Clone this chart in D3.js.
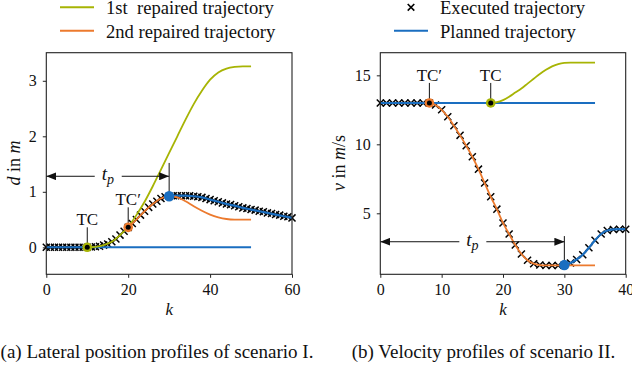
<!DOCTYPE html>
<html>
<head>
<meta charset="utf-8">
<script src="https://cdn.jsdelivr.net/npm/d3@7"></script>
<style>
  body { margin: 0; background: #fff; }
  text { font-family: "Liberation Serif", "DejaVu Serif", serif; fill: #111; }
</style>
</head>
<body>
<div id="main"></div>
<script>
var WIDTH = 632
var HEIGHT = 368

// ---- panel (a): lateral position d over k
var kExecA = d3.range(0, 61)
var execA = [0, 0, 0, 0, 0, 0, 0, 0, 0, 0, 0,
    0.005, 0.01, 0.02, 0.04, 0.06, 0.1, 0.15, 0.22, 0.29, 0.36,
    0.43, 0.5, 0.58, 0.65, 0.72, 0.78, 0.83, 0.88, 0.91, 0.92,
    0.93, 0.93, 0.93, 0.93, 0.93, 0.92, 0.91, 0.9, 0.88, 0.86,
    0.84, 0.82, 0.8, 0.78, 0.77, 0.75, 0.73, 0.71, 0.7, 0.68,
    0.67, 0.65, 0.64, 0.62, 0.61, 0.59, 0.58, 0.56, 0.55, 0.53]
var kPlanA = [0, 50]
var planA = [0, 0]
var kReplanA = [30, 32, 34, 36, 38, 40, 42, 44, 46, 48, 50, 52, 54, 56, 58, 60]
var replanA = [0.92, 0.93, 0.93, 0.92, 0.9, 0.86, 0.82, 0.78, 0.75, 0.71, 0.68, 0.65, 0.62, 0.59, 0.56, 0.53]
var kRep1A = [10, 12, 14, 16, 18, 20, 22, 24, 26, 28, 30, 32, 34, 36, 38, 40, 42, 44, 46, 48, 50]
var rep1A = [0, 0.01, 0.04, 0.1, 0.22, 0.37, 0.58, 0.82, 1.1, 1.4, 1.7, 2.0, 2.3, 2.58, 2.82, 3.02, 3.15, 3.22, 3.25, 3.26, 3.26]
var kRep2A = [20, 22, 24, 26, 28, 30, 32, 34, 36, 38, 40, 42, 44, 46, 48, 50]
var rep2A = [0.36, 0.5, 0.65, 0.78, 0.88, 0.92, 0.9, 0.83, 0.74, 0.66, 0.59, 0.54, 0.51, 0.5, 0.5, 0.5]
var xTicksA = [0, 20, 40, 60]
var yTicksA = [0, 1, 2, 3]

// ---- panel (b): velocity v over k
var kExecB = d3.range(0, 41)
var execB = [13, 13, 13, 13, 13, 13, 13, 13, 13,
    12.85, 12.5, 12.0, 11.35, 10.65, 9.9, 9.1, 8.2, 7.2, 6.2,
    5.3, 4.3, 3.5, 2.7, 2.05, 1.6, 1.35, 1.25, 1.22, 1.22, 1.22,
    1.25, 1.4, 1.65, 2.0, 2.5, 3.05, 3.5, 3.75, 3.83, 3.85, 3.85]
var kPlanB = [0, 35]
var planB = [13, 13]
var kReplanB = [30, 31, 32, 33, 34, 35, 36, 37, 38, 39, 40]
var replanB = [1.25, 1.4, 1.65, 2.0, 2.5, 3.05, 3.5, 3.75, 3.83, 3.85, 3.85]
var kRep1B = d3.range(18, 36)
var rep1B = [13, 13.05, 13.2, 13.45, 13.75, 14.05, 14.4, 14.75, 15.1, 15.4, 15.65, 15.82, 15.9, 15.92, 15.92, 15.92, 15.92, 15.92]
var kRep2B = d3.range(8, 36)
var rep2B = [13, 12.85, 12.5, 12.0, 11.35, 10.65, 9.9, 9.1, 8.2, 7.2, 6.2, 5.3, 4.3, 3.5, 2.7, 2.05, 1.6, 1.35, 1.25,
    1.22, 1.22, 1.22, 1.22, 1.22, 1.22, 1.22, 1.22, 1.22]
var xTicksB = [0, 10, 20, 30, 40]
var yTicksB = [5, 10, 15]

var BLUE = '#1a6ec0'
var ORANGE = '#ec7a2e'
var OLIVE = '#a7b404'
var SERIF = '"Liberation Serif", "DejaVu Serif", serif'

const svg = d3.select('#main').append('svg')
    .attr('width', WIDTH)
    .attr('height', HEIGHT)

var defs = svg.append('defs')
defs.append('marker')
    .attr('id', 'head')
    .attr('viewBox', '0 0 10 8')
    .attr('refX', 10).attr('refY', 4)
    .attr('markerWidth', 10).attr('markerHeight', 8)
    .attr('markerUnits', 'userSpaceOnUse')
    .attr('orient', 'auto-start-reverse')
    .append('path').attr('d', 'M0,0 L10,4 L0,8 Z').attr('fill', '#111')

function zip(ks, vs) { return ks.map((k, i) => [k, vs[i]]) }

function panel(cfg) {
    var x = d3.scaleLinear().domain(cfg.xDomain).range([cfg.left, cfg.right])
    var y = d3.scaleLinear().domain(cfg.yDomain).range([274.3, 52.7])
    var g = svg.append('g')
    var line = d3.line().x(d => x(d[0])).y(d => y(d[1])).curve(d3.curveMonotoneX)

    // axes
    var ax = g.append('g').attr('transform', 'translate(0,274.3)')
        .call(d3.axisBottom(x).tickValues(cfg.xTicks).tickFormat(d3.format('d')).tickSize(3.5).tickPadding(6))
    var ay = g.append('g').attr('transform', 'translate(' + cfg.left + ',0)')
        .call(d3.axisLeft(y).tickValues(cfg.yTicks).tickFormat(d3.format('d')).tickSize(3.5).tickPadding(6))
    ;[ax, ay].forEach(a => {
        a.attr('font-family', null)
        a.select('.domain').remove()
        a.selectAll('line').attr('stroke', '#222')
        a.selectAll('text').style('font-size', '16px').attr('fill', '#111')
            .style('font-family', SERIF)
    })

    // executed crosses
    g.selectAll('path.cross')
        .data(zip(cfg.kExec, cfg.exec))
        .enter().append('path')
        .attr('class', 'cross')
        .attr('d', d3.symbol(d3.symbolX, 34))
        .attr('transform', d => 'translate(' + x(d[0]) + ',' + y(d[1]) + ')')
        .attr('stroke', '#000').attr('stroke-width', 1.5).attr('fill', 'none')

    // trajectories
    var series = [
        [cfg.kPlan, cfg.plan, BLUE, 2],
        [cfg.kReplan, cfg.replan, BLUE, 2.2],
        [cfg.kRep1, cfg.rep1, OLIVE, 1.8],
        [cfg.kRep2, cfg.rep2, ORANGE, 1.8]
    ]
    series.forEach(s => {
        g.append('path').attr('d', line(zip(s[0], s[1])))
            .attr('fill', 'none').attr('stroke', s[2]).attr('stroke-width', s[3])
    })

    // t_p arrow
    var yA = y(cfg.arrowV)
    g.append('line')
        .attr('x1', x(cfg.kPlanStart)).attr('x2', x(cfg.kPlanEnd))
        .attr('y1', yA).attr('y2', yA)
        .attr('stroke', '#111').attr('stroke-width', 1)
        .attr('marker-start', 'url(#head)').attr('marker-end', 'url(#head)')
    var xm = x((cfg.kPlanStart + cfg.kPlanEnd) / 2)
    g.append('rect').attr('x', xm - 13).attr('y', yA - 9).attr('width', 27).attr('height', 18).attr('fill', '#fff')
    var tp = g.append('text').attr('x', xm - 6).attr('y', yA + 4).style('font-size', '19px').style('font-style', 'italic')
    tp.append('tspan').text('t')
    tp.append('tspan').attr('dy', 4).style('font-size', '14px').text('p')
    g.append('line')
        .attr('x1', x(cfg.kPlanEnd)).attr('x2', x(cfg.kPlanEnd))
        .attr('y1', y(cfg.dotV)).attr('y2', y(cfg.vTop))
        .attr('stroke', '#111').attr('stroke-width', 1)

    // TC markers
    cfg.tcs.forEach(t => {
        var px = x(t.k), py = y(t.v)
        g.append('line').attr('x1', px).attr('x2', px).attr('y1', py).attr('y2', py - 20)
            .attr('stroke', '#111').attr('stroke-width', 1)
        g.append('text').attr('x', px).attr('y', py - 22).attr('text-anchor', 'middle')
            .style('font-size', '17px').text(t.label)
        g.append('circle').attr('cx', px).attr('cy', py).attr('r', 4.8).attr('fill', t.color)
        g.append('circle').attr('cx', px).attr('cy', py).attr('r', 2.5).attr('fill', '#000')
    })
    g.append('circle').attr('cx', x(cfg.kPlanEnd)).attr('cy', y(cfg.dotV)).attr('r', 5.2).attr('fill', BLUE)

    // frame
    g.append('rect').attr('x', cfg.left).attr('y', 52.7)
        .attr('width', cfg.right - cfg.left).attr('height', 274.3 - 52.7)
        .attr('fill', 'none').attr('stroke', '#222').attr('stroke-width', 1.1)

    // labels
    var cx = (cfg.left + cfg.right) / 2
    g.append('text').attr('x', cx).attr('y', 315).attr('text-anchor', 'middle')
        .style('font-size', '17px').style('font-style', 'italic').text('k')
    var yl = g.append('text').attr('transform', 'translate(' + cfg.ylabX + ',163) rotate(-90)')
        .attr('text-anchor', 'middle').style('font-size', '18px')
    cfg.ylab.forEach(p => yl.append('tspan').style('font-style', p[1] ? 'italic' : 'normal').text(p[0]))
    g.append('text').attr('x', cfg.capX).attr('y', 358).attr('text-anchor', 'middle')
        .style('font-size', '19px').text(cfg.caption)
}

panel({
    left: 46.3, right: 292, xDomain: [0, 60], yDomain: [-0.486, 3.506],
    xTicks: xTicksA, yTicks: yTicksA,
    kExec: kExecA, exec: execA, kPlan: kPlanA, plan: planA,
    kReplan: kReplanA, replan: replanA, kRep1: kRep1A, rep1: rep1A, kRep2: kRep2A, rep2: rep2A,
    arrowV: 1.28, kPlanStart: 0, kPlanEnd: 30, dotV: 0.92, vTop: 1.52,
    tcs: [{ k: 10, v: 0, label: 'TC', color: OLIVE }, { k: 20, v: 0.36, label: 'TC\u2032', color: ORANGE }],
    ylabX: 20, ylab: [['d', true], [' in ', false], ['m', true]],
    capX: 157, caption: '(a) Lateral position profiles of scenario I.'
})

panel({
    left: 380.3, right: 625.7, xDomain: [0, 40], yDomain: [0.58, 16.64],
    xTicks: xTicksB, yTicks: yTicksB,
    kExec: kExecB, exec: execB, kPlan: kPlanB, plan: planB,
    kReplan: kReplanB, replan: replanB, kRep1: kRep1B, rep1: rep1B, kRep2: kRep2B, rep2: rep2B,
    arrowV: 2.94, kPlanStart: 0, kPlanEnd: 30, dotV: 1.25, vTop: 3.35,
    tcs: [{ k: 8, v: 13, label: 'TC\u2032', color: ORANGE }, { k: 18, v: 13, label: 'TC', color: OLIVE }],
    ylabX: 345, ylab: [['v', true], [' in ', false], ['m', true], ['/s', false]],
    capX: 483.5, caption: '(b) Velocity profiles of scenario II.'
})

// legends
var leg = svg.append('g')
var legItems = [
    { x: 60, y: 7.3, kind: 'line', color: OLIVE, text: '1st  repaired trajectory' },
    { x: 60, y: 30.7, kind: 'line', color: ORANGE, text: '2nd repaired trajectory' },
    { x: 394, y: 7.3, kind: 'cross', color: '#000', text: 'Executed trajectory' },
    { x: 394, y: 30.7, kind: 'line', color: BLUE, text: 'Planned trajectory' }
]
legItems.forEach(it => {
    if (it.kind === 'line') {
        leg.append('line').attr('x1', it.x).attr('x2', it.x + 34).attr('y1', it.y).attr('y2', it.y)
            .attr('stroke', it.color).attr('stroke-width', 2)
    } else {
        leg.append('path').attr('d', d3.symbol(d3.symbolX, 30))
            .attr('transform', 'translate(' + (it.x + 17) + ',' + it.y + ')')
            .attr('stroke', '#000').attr('stroke-width', 1.6).attr('fill', 'none')
    }
    leg.append('text').attr('x', it.x + 46).attr('y', it.y + 6.8)
        .style('font-size', '18.6px').style('white-space', 'pre').text(it.text)
})
</script>
</body>
</html>
